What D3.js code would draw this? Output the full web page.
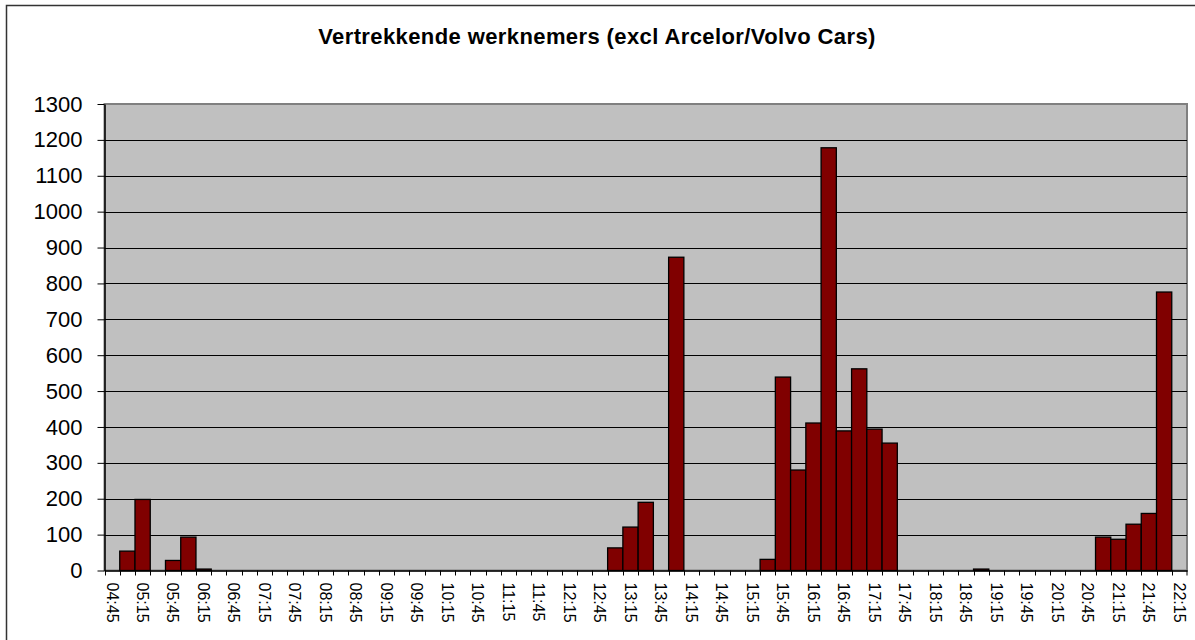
<!DOCTYPE html>
<html>
<head>
<meta charset="utf-8">
<script src="https://cdn.jsdelivr.net/npm/d3@7"></script>
<style>
  body { margin: 0; background: #fff; }
  text { font-family: Arial, "Liberation Sans", sans-serif; }
</style>
</head>
<body>
<svg width="1195" height="640"></svg>
<script>
var title = "Vertrekkende werknemers (excl Arcelor/Volvo Cars)";

// kwartieren (categorieen)
var slots = ["04:45", "05:00", "05:15", "05:30", "05:45", "06:00", "06:15", "06:30", "06:45", "07:00",
    "07:15", "07:30", "07:45", "08:00", "08:15", "08:30", "08:45", "09:00", "09:15", "09:30",
    "09:45", "10:00", "10:15", "10:30", "10:45", "11:00", "11:15", "11:30", "11:45", "12:00",
    "12:15", "12:30", "12:45", "13:00", "13:15", "13:30", "13:45", "14:00", "14:15", "14:30",
    "14:45", "15:00", "15:15", "15:30", "15:45", "16:00", "16:15", "16:30", "16:45", "17:00",
    "17:15", "17:30", "17:45", "18:00", "18:15", "18:30", "18:45", "19:00", "19:15", "19:30",
    "19:45", "20:00", "20:15", "20:30", "20:45", "21:00", "21:15", "21:30", "21:45", "22:00",
    "22:15"];

// aantal vertrekkende werknemers per kwartier
var values = [0, 54, 198, 0, 28, 93, 4, 0, 0, 0,
    0, 0, 0, 0, 0, 0, 0, 0, 0, 0,
    0, 0, 0, 0, 0, 0, 0, 0, 0, 0,
    0, 0, 0, 63, 121, 190, 0, 873, 0, 0,
    0, 0, 0, 31, 539, 280, 411, 1178, 389, 562,
    394, 355, 0, 0, 0, 0, 0, 4, 0, 0,
    0, 0, 0, 0, 0, 93, 87, 129, 159, 776,
    0];

// om het half uur een label
var xLabels = slots.filter(function (d, i) { return i % 2 === 0; });
var yTicks = [0, 100, 200, 300, 400, 500, 600, 700, 800, 900, 1000, 1100, 1200, 1300];

var svg = d3.select("svg"),
    width = +svg.attr("width"),
    height = +svg.attr("height");

var plot = { left: 104.5, right: 1187, top: 104, bottom: 570.5 };

// kader rond de grafiek (rechts en onder valt buiten beeld)
svg.append("rect")
    .attr("x", 6.5).attr("y", 5.5)
    .attr("width", width + 20).attr("height", height + 20)
    .attr("fill", "#fff")
    .attr("stroke", "#333")
    .attr("stroke-width", 1.5);

svg.append("text")
    .attr("x", 597)
    .attr("y", 44)
    .attr("text-anchor", "middle")
    .attr("font-weight", "bold")
    .attr("font-size", "22px")
    .attr("letter-spacing", "0.4px")
    .text(title);

var x = d3.scaleBand()
    .domain(slots)
    .range([plot.left, plot.right])
    .padding(0);

var y = d3.scaleLinear()
    .domain([0, 1300])
    .range([plot.bottom, plot.top]);

// grijze achtergrond van het plotgebied
svg.append("rect")
    .attr("x", plot.left).attr("y", plot.top)
    .attr("width", plot.right - plot.left)
    .attr("height", plot.bottom - plot.top)
    .attr("fill", "#c0c0c0")
    .attr("stroke", "#808080")
    .attr("stroke-width", 2);

// rasterlijnen
svg.append("g")
    .attr("class", "grid")
    .selectAll("line")
    .data(yTicks.slice(1, -1))
    .enter().append("line")
    .attr("x1", plot.left).attr("x2", plot.right)
    .attr("y1", function (d) { return Math.round(y(d)) + 0.5; })
    .attr("y2", function (d) { return Math.round(y(d)) + 0.5; })
    .attr("stroke", "#000")
    .attr("stroke-width", 1);

// staven
svg.append("g")
    .attr("class", "bars")
    .selectAll("rect")
    .data(values)
    .enter().append("rect")
    .attr("x", function (d, i) { return x(slots[i]); })
    .attr("y", function (d) { return y(d); })
    .attr("width", x.bandwidth())
    .attr("height", function (d) { return y(0) - y(d); })
    .attr("fill", "#800000")
    .attr("stroke", "#000")
    .attr("stroke-width", 1.3);

// y-as
var yAxis = svg.append("g")
    .attr("transform", "translate(" + plot.left + ",0)")
    .call(d3.axisLeft(y).tickValues(yTicks).tickFormat(d3.format("d"))
        .tickSize(7).tickPadding(15).tickSizeOuter(0));
yAxis.select(".domain").attr("stroke", "#000").attr("stroke-width", 1.5);
yAxis.selectAll(".tick line").attr("stroke", "#000");
yAxis.selectAll("text")
    .attr("font-size", "22px")
    .attr("font-family", "Arial, 'Liberation Sans', sans-serif")
    .attr("fill", "#000");

// x-as: labels om het half uur
var xAxis = svg.append("g")
    .attr("transform", "translate(0," + plot.bottom + ")")
    .call(d3.axisBottom(x).tickValues(xLabels).tickSize(0).tickPadding(0).tickSizeOuter(0));
xAxis.select(".domain").attr("stroke", "#000").attr("stroke-width", 1.5);
xAxis.selectAll("text")
    .attr("font-size", "16px")
    .attr("font-family", "Arial, 'Liberation Sans', sans-serif")
    .attr("fill", "#000")
    .attr("text-anchor", "start")
    .attr("transform", "translate(0,12) rotate(90)")
    .attr("x", 0)
    .attr("y", 0)
    .attr("dy", "0.35em");

// streepjes op de grenzen van elk kwartier
xAxis.selectAll(".edge")
    .data(slots.concat(["end"]))
    .enter().append("line")
    .attr("class", "edge")
    .attr("x1", function (d) { return d === "end" ? plot.right : Math.round(x(d)) + 0.5; })
    .attr("x2", function (d) { return d === "end" ? plot.right : Math.round(x(d)) + 0.5; })
    .attr("y1", 0)
    .attr("y2", 5)
    .attr("stroke", "#000");
</script>
</body>
</html>
